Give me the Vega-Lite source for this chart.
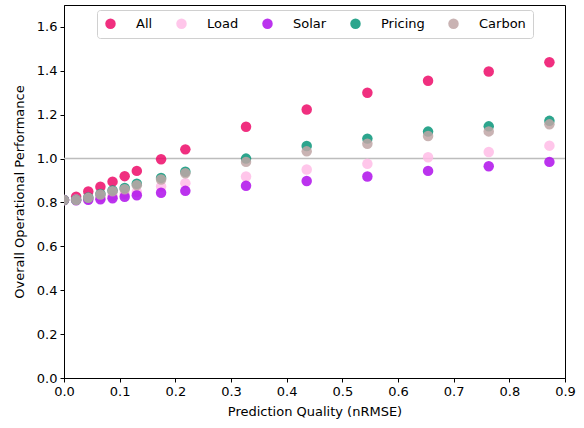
{
  "$schema": "https://vega.github.io/schema/vega-lite/v6.json",
  "width": 501,
  "height": 373,
  "autosize": {"type": "none"},
  "padding": {"left": 64, "top": 5, "right": 19, "bottom": 50},
  "config": {
    "font": "DejaVu Sans",
    "view": {"stroke": "#000", "strokeWidth": 1},
    "axis": {
      "labelFont": "DejaVu Sans", "titleFont": "DejaVu Sans",
      "labelFontSize": 13, "titleFontSize": 13, "titleFontWeight": "normal",
      "labelColor": "#000", "titleColor": "#000",
      "domainColor": "#000", "tickColor": "#000", "tickSize": 4, "labelPadding": 3,
      "labelFlush": false, "labelOverlap": false,
      "grid": false
    }
  },
  "datasets": {
    "ref": [{"level": 1.0}],
    "perf": [
      {"series": "All", "nrmse": 0.0, "perf": 0.811},
      {"series": "All", "nrmse": 0.0218, "perf": 0.826},
      {"series": "All", "nrmse": 0.0436, "perf": 0.85},
      {"series": "All", "nrmse": 0.0654, "perf": 0.872},
      {"series": "All", "nrmse": 0.0872, "perf": 0.895},
      {"series": "All", "nrmse": 0.109, "perf": 0.92},
      {"series": "All", "nrmse": 0.1308, "perf": 0.944},
      {"series": "All", "nrmse": 0.1744, "perf": 0.997},
      {"series": "All", "nrmse": 0.218, "perf": 1.042},
      {"series": "All", "nrmse": 0.327, "perf": 1.145},
      {"series": "All", "nrmse": 0.436, "perf": 1.224},
      {"series": "All", "nrmse": 0.545, "perf": 1.3},
      {"series": "All", "nrmse": 0.654, "perf": 1.355},
      {"series": "All", "nrmse": 0.763, "perf": 1.397},
      {"series": "All", "nrmse": 0.872, "perf": 1.439},
      {"series": "Load", "nrmse": 0.0, "perf": 0.811},
      {"series": "Load", "nrmse": 0.0218, "perf": 0.813},
      {"series": "Load", "nrmse": 0.0436, "perf": 0.818},
      {"series": "Load", "nrmse": 0.0654, "perf": 0.825},
      {"series": "Load", "nrmse": 0.0872, "perf": 0.832},
      {"series": "Load", "nrmse": 0.109, "perf": 0.84},
      {"series": "Load", "nrmse": 0.1308, "perf": 0.848},
      {"series": "Load", "nrmse": 0.1744, "perf": 0.873},
      {"series": "Load", "nrmse": 0.218, "perf": 0.888},
      {"series": "Load", "nrmse": 0.327, "perf": 0.918},
      {"series": "Load", "nrmse": 0.436, "perf": 0.95},
      {"series": "Load", "nrmse": 0.545, "perf": 0.976},
      {"series": "Load", "nrmse": 0.654, "perf": 1.006},
      {"series": "Load", "nrmse": 0.763, "perf": 1.03},
      {"series": "Load", "nrmse": 0.872, "perf": 1.059},
      {"series": "Solar", "nrmse": 0.0, "perf": 0.811},
      {"series": "Solar", "nrmse": 0.0218, "perf": 0.81},
      {"series": "Solar", "nrmse": 0.0436, "perf": 0.812},
      {"series": "Solar", "nrmse": 0.0654, "perf": 0.815},
      {"series": "Solar", "nrmse": 0.0872, "perf": 0.819},
      {"series": "Solar", "nrmse": 0.109, "perf": 0.826},
      {"series": "Solar", "nrmse": 0.1308, "perf": 0.833},
      {"series": "Solar", "nrmse": 0.1744, "perf": 0.844},
      {"series": "Solar", "nrmse": 0.218, "perf": 0.853},
      {"series": "Solar", "nrmse": 0.327, "perf": 0.876},
      {"series": "Solar", "nrmse": 0.436, "perf": 0.898},
      {"series": "Solar", "nrmse": 0.545, "perf": 0.918},
      {"series": "Solar", "nrmse": 0.654, "perf": 0.944},
      {"series": "Solar", "nrmse": 0.763, "perf": 0.965},
      {"series": "Solar", "nrmse": 0.872, "perf": 0.985},
      {"series": "Pricing", "nrmse": 0.0, "perf": 0.811},
      {"series": "Pricing", "nrmse": 0.0218, "perf": 0.812},
      {"series": "Pricing", "nrmse": 0.0436, "perf": 0.823},
      {"series": "Pricing", "nrmse": 0.0654, "perf": 0.839},
      {"series": "Pricing", "nrmse": 0.0872, "perf": 0.855},
      {"series": "Pricing", "nrmse": 0.109, "perf": 0.866},
      {"series": "Pricing", "nrmse": 0.1308, "perf": 0.885},
      {"series": "Pricing", "nrmse": 0.1744, "perf": 0.912},
      {"series": "Pricing", "nrmse": 0.218, "perf": 0.94},
      {"series": "Pricing", "nrmse": 0.327, "perf": 1.0},
      {"series": "Pricing", "nrmse": 0.436, "perf": 1.057},
      {"series": "Pricing", "nrmse": 0.545, "perf": 1.091},
      {"series": "Pricing", "nrmse": 0.654, "perf": 1.123},
      {"series": "Pricing", "nrmse": 0.763, "perf": 1.147},
      {"series": "Pricing", "nrmse": 0.872, "perf": 1.172},
      {"series": "Carbon", "nrmse": 0.0, "perf": 0.811},
      {"series": "Carbon", "nrmse": 0.0218, "perf": 0.811},
      {"series": "Carbon", "nrmse": 0.0436, "perf": 0.821},
      {"series": "Carbon", "nrmse": 0.0654, "perf": 0.836},
      {"series": "Carbon", "nrmse": 0.0872, "perf": 0.851},
      {"series": "Carbon", "nrmse": 0.109, "perf": 0.86},
      {"series": "Carbon", "nrmse": 0.1308, "perf": 0.879},
      {"series": "Carbon", "nrmse": 0.1744, "perf": 0.905},
      {"series": "Carbon", "nrmse": 0.218, "perf": 0.933},
      {"series": "Carbon", "nrmse": 0.327, "perf": 0.985},
      {"series": "Carbon", "nrmse": 0.436, "perf": 1.033},
      {"series": "Carbon", "nrmse": 0.545, "perf": 1.068},
      {"series": "Carbon", "nrmse": 0.654, "perf": 1.103},
      {"series": "Carbon", "nrmse": 0.763, "perf": 1.124},
      {"series": "Carbon", "nrmse": 0.872, "perf": 1.156}
    ]
  },
  "layer": [
    {
      "data": {"name": "ref"},
      "mark": {"type": "rule", "color": "#bdbdbd", "strokeWidth": 1.5},
      "encoding": {
        "y": {"field": "level", "type": "quantitative", "scale": {"domain": [0, 1.7], "nice": false}}
      }
    },
    {
      "data": {"name": "perf"},
      "mark": {"type": "point", "filled": true, "size": 110, "opacity": 0.85, "clip": true, "strokeWidth": 0},
      "encoding": {
        "x": {
          "field": "nrmse", "type": "quantitative",
          "scale": {"domain": [0, 0.9], "nice": false, "zero": false},
          "axis": {"title": "Prediction Quality (nRMSE)", "values": [0, 0.1, 0.2, 0.3, 0.4, 0.5, 0.6, 0.7, 0.8, 0.9], "format": ".1f", "titlePadding": 7}
        },
        "y": {
          "field": "perf", "type": "quantitative",
          "scale": {"domain": [0, 1.7], "nice": false, "zero": false},
          "axis": {"title": "Overall Operational Performance", "values": [0, 0.2, 0.4, 0.6, 0.8, 1.0, 1.2, 1.4, 1.6], "format": ".1f", "titlePadding": 10}
        },
        "color": {
          "field": "series", "type": "nominal",
          "scale": {
            "domain": ["All", "Load", "Solar", "Pricing", "Carbon"],
            "range": ["#ed0b68", "#ffbce6", "#af0feb", "#079579", "#bfa6a6"]
          },
          "legend": {
            "title": null,
            "orient": "none",
            "legendX": 33,
            "legendY": 5,
            "direction": "horizontal",
            "columns": 5,
            "symbolType": "circle",
            "symbolSize": 110,
            "symbolOpacity": 0.85,
            "labelFont": "DejaVu Sans",
            "labelFontSize": 13,
            "labelColor": "#000",
            "labelOffset": 19,
            "columnPadding": 22,
            "padding": 7,
            "strokeColor": "#d0d0d0",
            "fillColor": "#ffffff",
            "cornerRadius": 3
          }
        }
      }
    }
  ]
}
